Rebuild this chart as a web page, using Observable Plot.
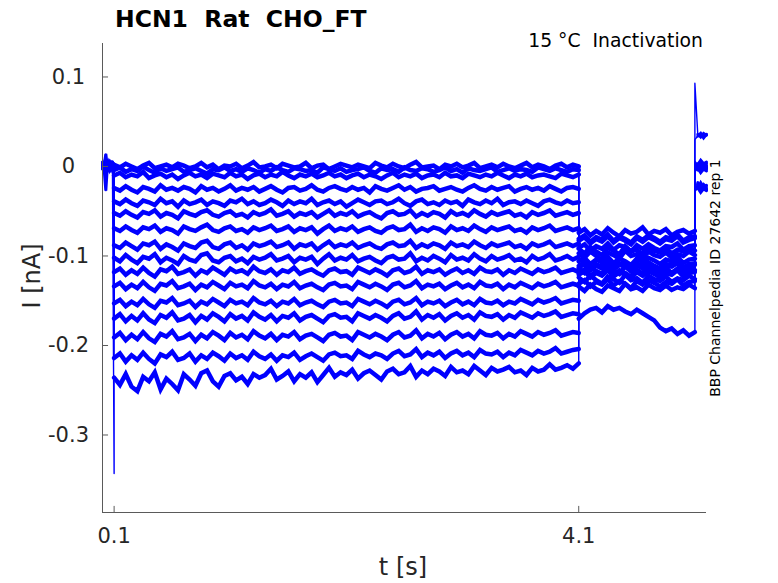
<!DOCTYPE html>
<html><head><meta charset="utf-8">
<script src="https://cdn.jsdelivr.net/npm/d3@7"></script>
<script src="https://cdn.jsdelivr.net/npm/@observablehq/plot@0.6"></script>
<style>body{margin:0;background:#fff;}</style>
</head><body><div id="chart"></div>
<script>
const titleText = "HCN1  Rat  CHO_FT";
const conditionText = "15 °C  Inactivation";
const sideText = "BBP Channelpedia ID 27642 rep 1";
const xLabel = "t [s]";
const yLabel = "I [nA]";
const xTicks = [0.1, 4.1];
const yTicks = [0.1, 0, -0.1, -0.2, -0.3];
const xDomain = [0, 5.2];
const yDomain = [-0.3866, 0.1374];

// protocol segments (s): pre, conditioning, test, return
const segStart = [0, 0.1, 4.1, 5.1];
const segEnd = [0.1, 4.1, 5.1, 5.2];

// currents in pA
const preTraces = [
  [3,1,14,-2,4,0,5,2],
  [0,-3,-27,2,-1,-4,1,-2],
  [4,0,3,-2,5,1,-1,3],
  [-2,2,-4,1,-1,3,0,-3],
  [1,-3,2,5,-2,0,3,-1],
  [-1,4,0,-3,2,-2,1,4],
  [5,-1,2,0,-4,3,-2,1],
  [0,3,-2,4,1,-3,2,-1],
  [-3,1,5,-1,3,0,-2,2],
  [2,-2,1,3,-1,4,0,-3],
  [-1,2,-3,0,4,-2,3,1],
  [4,-1,0,2,-3,1,-2,3],
  [1,3,-2,-1,2,4,-3,0],
  [-2,0,4,-3,1,2,5,-1],
  [3,-4,1,2,0,-1,2,4],
  [1,-2,3,0,-3,2,-1,-343]
];

const mainTraces = [
  [2,-1,3,0,-3,1,4,-2,0,2,-1,3,1,-2,0,4,-1,2,-3,1,0,3,-2,1,5,-1,0,2,-2,3,1,-1,0,4,-2,1,2,-3,0,3,1,-1,2,0,-2,4,1,-1,3,0,-2,2,5,-1,0,1,-3,2,0,3,-1,1,4,-2,0,2,-1,3,0,-2,1,4,-1,2,0,-3,1,3,-1,2,0],
  [-4,-1,-6,-3,-5,0,-4,-7,-2,-5,-3,-1,-6,-4,-2,-5,-8,-3,-4,-1,-5,-3,-6,-2,-4,-7,-3,-5,-1,-4,-6,-2,-3,-5,-4,-7,-1,-3,-5,-2,-6,-4,-3,-1,-5,-7,-2,-4,-3,-6,-1,-4,-5,-2,-3,-6,-4,-1,-5,-3,-7,-2,-4,-5,-3,-1,-6,-4,-2,-5,-3,-4,-6,-1,-3,-5,-2,-4,-6,-3,-4],
  [-10,-7,-12,-9,-11,-6,-13,-10,-8,-12,-9,-14,-10,-7,-11,-9,-13,-8,-10,-12,-7,-11,-9,-14,-10,-8,-12,-9,-11,-6,-10,-13,-9,-11,-8,-12,-10,-7,-11,-9,-13,-10,-8,-12,-9,-11,-14,-10,-7,-12,-9,-11,-8,-13,-10,-9,-12,-7,-11,-10,-13,-8,-10,-12,-9,-11,-7,-10,-13,-9,-11,-8,-12,-10,-9,-11,-13,-8,-10,-12,-9],
  [-24,-27,-22,-26,-29,-23,-25,-28,-21,-26,-24,-27,-23,-25,-29,-22,-26,-24,-28,-25,-21,-27,-24,-26,-23,-28,-25,-22,-26,-29,-24,-23,-27,-25,-21,-26,-28,-24,-22,-25,-27,-23,-26,-24,-29,-22,-25,-27,-24,-21,-26,-23,-28,-25,-24,-22,-27,-25,-23,-26,-28,-24,-21,-25,-27,-23,-26,-24,-22,-28,-25,-23,-26,-24,-27,-22,-25,-28,-24,-23,-25],
  [-39,-42,-37,-41,-44,-38,-40,-43,-36,-41,-39,-45,-38,-42,-40,-37,-43,-39,-41,-44,-38,-40,-36,-42,-39,-43,-41,-37,-40,-44,-38,-42,-39,-41,-36,-43,-40,-38,-42,-39,-45,-41,-37,-40,-43,-39,-38,-42,-40,-36,-41,-44,-39,-37,-42,-40,-43,-38,-41,-39,-44,-37,-40,-42,-38,-41,-36,-43,-40,-39,-42,-38,-41,-44,-39,-37,-40,-42,-38,-41,-40],
  [-52,-55,-50,-54,-57,-51,-53,-49,-56,-52,-54,-58,-50,-53,-55,-51,-49,-54,-56,-52,-50,-55,-53,-57,-51,-54,-52,-48,-55,-53,-50,-56,-52,-54,-51,-57,-53,-49,-55,-52,-54,-50,-56,-53,-51,-55,-58,-52,-50,-54,-53,-49,-56,-52,-55,-51,-53,-57,-50,-54,-52,-55,-49,-53,-56,-51,-54,-52,-50,-55,-53,-57,-51,-54,-52,-49,-55,-53,-51,-54,-52],
  [-69,-72,-67,-71,-74,-68,-70,-66,-73,-69,-71,-75,-67,-70,-72,-68,-65,-71,-73,-69,-67,-72,-70,-74,-68,-71,-69,-66,-72,-70,-67,-73,-69,-71,-68,-75,-70,-66,-72,-69,-71,-67,-73,-70,-68,-72,-74,-69,-67,-71,-70,-65,-73,-69,-72,-68,-70,-74,-67,-71,-69,-72,-66,-70,-73,-68,-71,-69,-67,-72,-70,-74,-68,-71,-69,-66,-72,-70,-68,-71,-69],
  [-88,-91,-85,-89,-93,-86,-88,-84,-92,-87,-90,-94,-86,-89,-91,-85,-83,-90,-92,-87,-85,-91,-88,-93,-86,-89,-87,-84,-90,-88,-85,-92,-87,-89,-86,-93,-88,-84,-90,-87,-89,-85,-91,-88,-86,-90,-92,-87,-85,-89,-88,-83,-91,-87,-90,-86,-88,-92,-85,-89,-87,-90,-84,-88,-91,-86,-89,-87,-85,-90,-88,-92,-86,-89,-87,-84,-90,-88,-86,-89,-86],
  [-102,-106,-99,-104,-108,-101,-103,-98,-107,-102,-105,-109,-100,-104,-106,-99,-97,-105,-107,-102,-100,-106,-103,-108,-101,-104,-102,-98,-105,-103,-100,-107,-102,-104,-101,-109,-103,-98,-105,-102,-104,-99,-106,-103,-101,-105,-108,-102,-100,-104,-103,-97,-106,-102,-105,-100,-103,-107,-99,-104,-102,-105,-98,-103,-106,-100,-104,-102,-99,-105,-103,-107,-100,-104,-102,-98,-105,-103,-100,-104,-101],
  [-118,-114,-121,-116,-120,-113,-119,-123,-115,-117,-112,-120,-118,-115,-122,-116,-119,-113,-117,-121,-114,-118,-116,-120,-112,-117,-119,-115,-121,-116,-118,-113,-120,-117,-115,-119,-122,-116,-114,-118,-117,-121,-113,-116,-119,-115,-118,-122,-116,-114,-119,-117,-112,-120,-116,-118,-115,-121,-117,-114,-119,-116,-120,-113,-117,-118,-115,-121,-116,-119,-114,-117,-120,-115,-118,-116,-113,-119,-117,-115,-118],
  [-134,-130,-137,-132,-136,-129,-135,-139,-131,-133,-128,-136,-134,-131,-138,-132,-135,-129,-133,-137,-130,-134,-132,-136,-128,-133,-135,-131,-137,-132,-134,-129,-136,-133,-131,-135,-138,-132,-130,-134,-133,-137,-129,-132,-135,-131,-134,-138,-132,-130,-135,-133,-128,-136,-132,-134,-131,-137,-133,-130,-135,-132,-136,-129,-133,-134,-131,-137,-132,-135,-130,-133,-136,-131,-134,-132,-129,-135,-133,-131,-133],
  [-153,-149,-156,-151,-155,-148,-154,-158,-150,-152,-147,-155,-153,-150,-157,-151,-154,-148,-152,-156,-149,-153,-151,-155,-147,-152,-154,-150,-156,-151,-153,-148,-155,-152,-150,-154,-157,-151,-149,-153,-152,-156,-148,-151,-154,-150,-153,-157,-151,-149,-154,-152,-147,-155,-151,-153,-150,-156,-152,-149,-154,-151,-155,-148,-152,-153,-150,-155,-151,-153,-148,-151,-154,-149,-152,-150,-147,-153,-151,-149,-150],
  [-170,-165,-173,-167,-172,-164,-171,-175,-166,-169,-163,-172,-170,-166,-174,-167,-171,-164,-168,-173,-165,-170,-167,-172,-163,-168,-171,-166,-173,-167,-169,-164,-172,-168,-166,-170,-174,-167,-165,-169,-168,-173,-164,-167,-170,-166,-169,-173,-167,-164,-170,-168,-162,-171,-166,-169,-165,-172,-167,-164,-169,-166,-171,-163,-167,-168,-165,-171,-166,-169,-163,-166,-169,-164,-167,-165,-162,-168,-166,-164,-165],
  [-191,-186,-194,-188,-193,-185,-192,-196,-187,-190,-184,-193,-191,-187,-195,-188,-192,-185,-189,-194,-186,-191,-188,-193,-184,-189,-192,-187,-194,-188,-190,-185,-193,-189,-187,-191,-195,-188,-186,-190,-189,-194,-185,-188,-191,-187,-190,-194,-188,-185,-191,-189,-183,-192,-187,-190,-186,-193,-188,-185,-190,-187,-192,-184,-188,-189,-186,-192,-187,-190,-184,-187,-190,-185,-188,-186,-183,-189,-187,-185,-186],
  [-214,-209,-218,-211,-216,-208,-215,-220,-210,-213,-207,-216,-214,-209,-218,-211,-215,-208,-212,-217,-209,-214,-211,-216,-207,-212,-215,-210,-217,-211,-213,-208,-216,-212,-209,-213,-217,-210,-208,-212,-211,-215,-206,-210,-213,-209,-211,-215,-209,-206,-212,-210,-204,-213,-208,-211,-207,-214,-209,-206,-211,-208,-213,-205,-209,-210,-207,-213,-208,-211,-205,-208,-211,-206,-209,-207,-203,-209,-207,-205,-204],
  [-236,-244,-232,-246,-251,-235,-240,-230,-249,-237,-243,-250,-232,-238,-245,-231,-228,-240,-246,-234,-231,-239,-235,-243,-232,-236,-233,-226,-238,-234,-229,-240,-232,-236,-230,-241,-233,-225,-235,-230,-233,-227,-237,-231,-228,-233,-238,-229,-226,-232,-230,-223,-235,-228,-232,-226,-229,-234,-224,-230,-228,-232,-223,-228,-233,-225,-229,-227,-224,-230,-228,-233,-225,-229,-227,-221,-227,-225,-222,-226,-220]
];

const tailTraces = [
  [-74,-70,-77,-72,-76,-69,-74,-78,-71,-75,-73,-68,-76,-72,-74,-70,-77,-73,-71,-75,-72],
  [-83,-79,-86,-81,-84,-78,-85,-80,-83,-87,-80,-84,-79,-82,-86,-81,-83,-78,-85,-82,-80],
  [-91,-87,-94,-89,-92,-86,-93,-88,-90,-95,-88,-92,-87,-91,-94,-89,-90,-86,-93,-89,-88],
  [-97,-102,-95,-100,-104,-96,-99,-103,-94,-100,-98,-103,-95,-99,-101,-96,-102,-98,-100,-95,-99],
  [-106,-102,-109,-104,-107,-101,-108,-103,-106,-110,-103,-107,-102,-105,-109,-104,-106,-101,-108,-104,-103],
  [-111,-107,-114,-109,-112,-106,-113,-108,-110,-115,-108,-112,-107,-111,-114,-109,-110,-106,-113,-109,-108],
  [-114,-119,-112,-117,-121,-113,-116,-120,-111,-117,-115,-120,-112,-116,-118,-113,-119,-115,-117,-112,-116],
  [-121,-117,-124,-119,-122,-116,-123,-118,-121,-125,-118,-122,-117,-120,-124,-119,-121,-116,-123,-119,-118],
  [-124,-129,-122,-127,-131,-123,-126,-130,-121,-127,-125,-130,-122,-126,-128,-123,-129,-125,-127,-122,-126],
  [-131,-127,-134,-129,-132,-126,-133,-128,-131,-136,-128,-132,-127,-130,-134,-129,-131,-126,-133,-129,-128],
  [-134,-139,-132,-137,-140,-133,-136,-139,-131,-137,-135,-139,-132,-136,-138,-133,-138,-135,-137,-132,-136],
  [-113,-109,-116,-111,-114,-108,-115,-110,-112,-117,-110,-114,-109,-113,-116,-111,-112,-108,-115,-111,-110],
  [-170,-164,-160,-158,-163,-156,-160,-158,-162,-165,-160,-164,-168,-172,-180,-184,-181,-187,-183,-189,-185],
  [-119,-115,-122,-117,-120,-114,-121,-116,-119,-123,-116,-120,-115,-118,-122,-117,-119,-114,-121,-117,-116],
  [-92,-97,-90,-95,-99,-91,-94,-98,-89,-95,-93,-98,-90,-94,-96,-91,-97,-93,-95,-90,-94],
  [-81,-77,-84,-79,-82,-76,-83,-78,-81,-85,-78,-82,-77,-80,-84,-79,-81,-76,-83,-79,-78]
];

const postTraces = [
  [93,36,33,37,35],
  [30,34,37,32,36],
  [2,-2,3,-1,1],
  [-1,3,-3,2,-2],
  [-4,0,-5,-1,-3],
  [4,1,5,0,3],
  [-20,-24,-18,-23,-21],
  [-26,-22,-27,-23,-25],
  [1,-3,2,-2,0],
  [-6,-2,-7,-3,-5],
  [-22,-18,-24,-20,-23],
  [-3,1,-4,0,-2],
  [-28,-24,-29,-25,-27],
  [6,2,7,3,5],
  [0,-4,1,-3,-1],
  [-25,-21,-27,-22,-26]
];

// build long table: sweep k, segment s, time t (s), current I (nA)
const rows = [];
mainTraces.forEach((_, k) => {
  [preTraces[k], mainTraces[k], tailTraces[k], postTraces[k]].forEach((vals, s) => {
    const t0 = segStart[s], t1 = segEnd[s], n = vals.length;
    vals.forEach((v, i) => rows.push({
      sweep: k, seg: s, t: t0 + (t1 - t0) * i / (n - 1), I: v / 1000,
      // the step transients (first point after 5.1 s, last point before 0.1 s) stay thin
      transient: (s === 0 && i === n - 1) || (s === 3 && i === 0)
    }));
  });
});
const bodyRows = rows.filter(d => !d.transient);

const axisColor = "#5a5a5a";
const textColor = "#262626";
const yMin = yDomain[0];

const chart = Plot.plot({
  width: 778, height: 583,
  marginLeft: 102, marginRight: 72, marginTop: 43, marginBottom: 71,
  x: {domain: xDomain, axis: null},
  y: {domain: yDomain, axis: null},
  style: {fontFamily: "DejaVu Sans", background: "white", overflow: "visible"},
  marks: [
    Plot.line(rows, {x: "t", y: "I", z: "sweep", stroke: "#0000ff", strokeWidth: 1.4}),
    Plot.line(bodyRows, {x: "t", y: "I", z: d => d.sweep * 4 + d.seg, stroke: "#0000ff",
      strokeWidth: d => d.seg === 1 || d.seg === 2 ? 4.5 : 3, strokeLinejoin: "miter", strokeMiterlimit: 3}),
    Plot.ruleX([xDomain[0]], {stroke: axisColor}),
    Plot.ruleY([yMin], {stroke: axisColor}),
    Plot.ruleY(yTicks, {y: d => d, x1: xDomain[0], x2: xDomain[0] + 0.052, stroke: axisColor}),
    Plot.ruleX(xTicks, {x: d => d, y1: yMin, y2: yMin + 0.0068, stroke: axisColor}),
    Plot.text(yTicks, {x: xDomain[0], y: d => d, text: d => d === 0 ? "0" : String(d), textAnchor: "middle", dx: -34, fontSize: 21, fill: textColor}),
    Plot.text(xTicks, {x: d => d, y: yMin, text: d => String(d), textAnchor: "middle", dy: 24, fontSize: 21, fill: textColor})
  ]
});

const svg = d3.select(chart);
svg.append("text").attr("x", 115).attr("y", 27).attr("font-size", 23.5).attr("font-weight", "bold")
  .attr("text-anchor", "start").attr("fill", "#000").style("white-space", "pre").text(titleText);
svg.append("text").attr("x", 703).attr("y", 47).attr("font-size", 18.8).attr("text-anchor", "end")
  .attr("fill", "#000").style("white-space", "pre").text(conditionText);
svg.append("text").attr("transform", "translate(720,278) rotate(-90)").attr("font-size", 14)
  .attr("text-anchor", "middle").attr("fill", "#000").text(sideText);
svg.append("text").attr("transform", "translate(40,276) rotate(-90)").attr("font-size", 24)
  .attr("text-anchor", "middle").attr("fill", textColor).style("white-space", "pre").text(yLabel);
svg.append("text").attr("x", 403).attr("y", 575).attr("font-size", 24)
  .attr("text-anchor", "middle").attr("fill", textColor).style("white-space", "pre").text(xLabel);

document.getElementById("chart").appendChild(chart);
</script>
</body></html>
